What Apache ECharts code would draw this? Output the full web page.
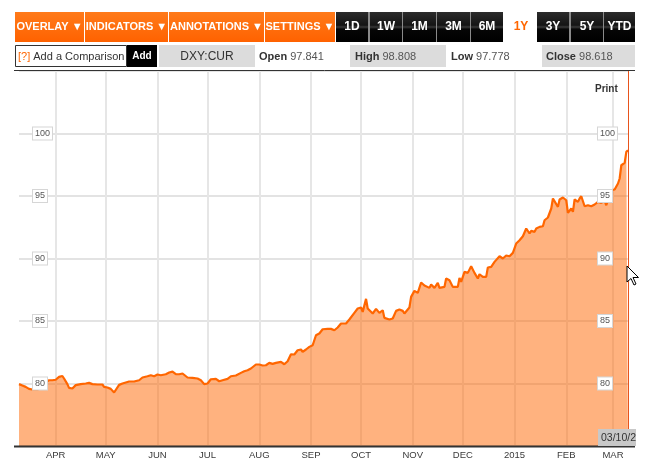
<!DOCTYPE html>
<html><head><meta charset="utf-8">
<script src="https://cdn.jsdelivr.net/npm/echarts@6/dist/echarts.min.js"></script>
<style>html,body{margin:0;padding:0;background:#fff}#c{width:649px;height:467px}</style>
</head><body><div id="c"></div>
<script>
// ---------- data ----------
const dates = [
'2014-03-10','2014-03-11','2014-03-12','2014-03-14','2014-03-16','2014-03-18','2014-03-21','2014-03-24','2014-03-26','2014-03-28','2014-03-30',
'2014-04-01','2014-04-03','2014-04-05','2014-04-06','2014-04-08','2014-04-09','2014-04-11','2014-04-13','2014-04-16','2014-04-19','2014-04-21','2014-04-23','2014-04-26','2014-04-29','2014-04-30',
'2014-05-02','2014-05-04','2014-05-06','2014-05-07','2014-05-09','2014-05-11','2014-05-13','2014-05-15','2014-05-18','2014-05-21','2014-05-23','2014-05-26','2014-05-28','2014-05-30',
'2014-06-01','2014-06-03','2014-06-04','2014-06-06','2014-06-08','2014-06-10','2014-06-12','2014-06-14','2014-06-16','2014-06-17','2014-06-19','2014-06-22','2014-06-25','2014-06-27','2014-06-29',
'2014-07-01','2014-07-03','2014-07-06','2014-07-08','2014-07-10','2014-07-13','2014-07-15','2014-07-18','2014-07-21','2014-07-23','2014-07-25','2014-07-27','2014-07-30',
'2014-08-01','2014-08-03','2014-08-05','2014-08-07','2014-08-09','2014-08-11','2014-08-14','2014-08-16','2014-08-18','2014-08-20','2014-08-22','2014-08-24','2014-08-26','2014-08-27','2014-08-29','2014-08-31',
'2014-09-02','2014-09-03','2014-09-04','2014-09-06','2014-09-08','2014-09-11','2014-09-13','2014-09-15','2014-09-17','2014-09-19','2014-09-22','2014-09-24','2014-09-25','2014-09-27','2014-09-29',
'2014-10-01','2014-10-02','2014-10-04','2014-10-05','2014-10-08','2014-10-10','2014-10-12','2014-10-14','2014-10-15','2014-10-18','2014-10-20','2014-10-22','2014-10-24','2014-10-26','2014-10-27','2014-10-30','2014-10-31',
'2014-11-02','2014-11-04','2014-11-06','2014-11-08','2014-11-09','2014-11-11','2014-11-12','2014-11-14','2014-11-16','2014-11-17','2014-11-20','2014-11-21','2014-11-23','2014-11-25','2014-11-28','2014-11-29','2014-11-30',
'2014-12-02','2014-12-04','2014-12-06','2014-12-08','2014-12-10','2014-12-11','2014-12-13','2014-12-15','2014-12-16','2014-12-18','2014-12-20','2014-12-23','2014-12-25','2014-12-27','2014-12-29','2014-12-31',
'2015-01-01','2015-01-02','2015-01-04','2015-01-06','2015-01-08','2015-01-10','2015-01-11','2015-01-13','2015-01-14','2015-01-16','2015-01-18','2015-01-19','2015-01-21','2015-01-23','2015-01-24','2015-01-25','2015-01-27','2015-01-28','2015-01-30',
'2015-02-01','2015-02-02','2015-02-04','2015-02-05','2015-02-06','2015-02-08','2015-02-09','2015-02-10','2015-02-12','2015-02-14','2015-02-16','2015-02-18','2015-02-20','2015-02-22','2015-02-24','2015-02-25','2015-02-28',
'2015-03-02','2015-03-04','2015-03-05','2015-03-06','2015-03-08','2015-03-09','2015-03-10'
];
const values = [
79.95,79.92,79.84,79.73,79.57,79.52,79.52,79.62,80.10,80.26,80.26,
80.30,80.53,80.60,80.40,79.95,79.65,79.60,79.87,79.95,80.00,80.05,79.95,79.92,79.92,79.73,
79.68,79.57,79.28,79.28,79.89,80.00,80.08,80.16,80.16,80.26,80.48,80.58,80.66,80.58,
80.72,80.66,80.53,80.74,80.88,80.95,80.75,80.74,80.80,80.64,80.48,80.45,80.40,80.26,79.95,
80.00,80.34,80.37,80.18,80.26,80.37,80.58,80.64,80.85,80.98,81.06,81.20,81.52,
81.52,81.44,81.46,81.65,81.57,81.65,81.73,81.54,81.78,82.34,82.32,82.66,82.72,82.53,82.72,82.93,
83.06,82.93,83.86,84.00,84.34,84.37,84.37,84.26,84.48,84.80,84.80,85.12,85.28,85.65,86.00,
86.08,85.73,86.77,86.00,85.60,85.97,85.65,85.86,85.25,85.12,85.20,85.81,85.92,85.81,85.60,86.08,86.93,
87.41,87.25,88.08,87.84,87.94,87.65,87.92,87.65,88.05,87.65,87.73,88.40,88.26,87.73,87.73,88.45,88.13,
88.93,88.85,89.38,88.85,88.40,88.74,88.53,88.53,89.28,89.33,89.73,90.18,90.00,90.24,90.18,90.45,
90.40,91.20,91.46,91.78,92.40,92.00,92.21,92.13,92.40,92.53,92.58,93.06,93.28,94.00,94.80,94.72,94.13,94.72,94.88,
94.66,93.65,94.00,93.73,94.72,94.53,94.80,94.98,94.18,94.26,94.18,94.32,94.53,94.45,94.61,94.26,95.46,
95.52,96.00,96.40,97.46,97.65,98.53,98.66
];
const yTicks = [80, 85, 90, 95, 100];
const xTickDates = ['2014-04-01','2014-05-01','2014-06-01','2014-07-01','2014-08-01','2014-09-01','2014-10-01','2014-11-01','2014-12-01','2015-01-01','2015-02-01','2015-03-01'];
const xTickLabels = ['APR','MAY','JUN','JUL','AUG','SEP','OCT','NOV','DEC','2015','FEB','MAR'];
const rangeStart = '2014-03-10';
const rangeEnd = '2015-03-10';
const cursorDate = '2015-03-10';
const cursorLabel = '03/10/2015';
const symbolName = 'DXY:CUR';
const quoteNames = ['Open', 'High', 'Low', 'Close'];
const quoteValues = ['97.841', '98.808', '97.778', '98.618'];
const menus = ['OVERLAY', 'INDICATORS', 'ANNOTATIONS', 'SETTINGS'];
const ranges = ['1D', '1W', '1M', '3M', '6M', '1Y', '3Y', '5Y', 'YTD'];
const activeRange = '1Y';

// ---------- helpers ----------
function ts(s) { const p = s.split('-').map(Number); return new Date(p[0], p[1] - 1, p[2]).getTime(); }
const F = '"Liberation Sans", Arial, "DejaVu Sans", sans-serif';
const ORANGE = '#ff6600';
const seriesData = dates.map((d, i) => [ts(d), values[i]]);
const tickTs = xTickDates.map(ts);

const chart = echarts.init(document.getElementById('c'), null, { renderer: 'canvas', width: 649, height: 467 });
const G = [];
function rect(x, y, w, h, fill, extra) {
  G.push(Object.assign({ type: 'rect', silent: true, z: 100, shape: { x: x, y: y, width: w, height: h }, style: { fill: fill } }, extra || {}));
}
function text(t, x, y, font, fill, align, extra, z) {
  G.push({ type: 'text', silent: true, z: z || 102, style: Object.assign({
    text: t, x: x, y: y, font: font, fill: fill,
    textAlign: align || 'left', align: align || 'left', textVerticalAlign: 'middle', verticalAlign: 'middle'
  }, extra || {}) });
}
function line(x1, y1, x2, y2, color, w) {
  G.push({ type: 'line', silent: true, z: 101, shape: { x1: x1, y1: y1, x2: x2, y2: y2 }, style: { stroke: color, lineWidth: w } });
}

// ---------- toolbar row 1 ----------
const orangeGrad = new echarts.graphic.LinearGradient(0, 0, 0, 1, [
  { offset: 0, color: '#ff7a1a' }, { offset: 1, color: '#ff6200' }]);
const blackGrad = new echarts.graphic.LinearGradient(0, 0, 0, 1, [
  { offset: 0, color: '#2c2c2c' }, { offset: 0.44, color: '#141414' }, { offset: 0.5, color: '#3a3a3a' },
  { offset: 0.57, color: '#060606' }, { offset: 1, color: '#000000' }]);
const menuBox = [[15, 69], [85, 83], [169, 95], [265, 70]];
menus.forEach((m, i) => {
  const b = menuBox[i];
  rect(b[0], 12, b[1], 30, orangeGrad);
  text(m + ' \u25BC', b[0] + b[1] / 2, 27, 'bold 11px ' + F, '#ffffff', 'center');
});
rect(336, 12, 167, 30, '#8a8a8a');
rect(537, 12, 98, 30, '#8a8a8a');
const rangeBox = [[336, 32], [370, 32], [403, 33], [437, 33], [471, 32], [505, 31], [537, 32], [571, 32], [604, 31]];
ranges.forEach((r, i) => {
  const b = rangeBox[i];
  if (r === activeRange) {
    rect(b[0], 12, b[1], 30, '#ffffff');
    text(r, b[0] + b[1] / 2 + 0.5, 27, 'bold 12px ' + F, ORANGE, 'center');
  } else {
    rect(b[0], 12, b[1], 30, blackGrad);
    text(r, b[0] + b[1] / 2, 27, 'bold 12px ' + F, '#ffffff', 'center');
  }
});

// ---------- toolbar row 2 ----------
G.push({ type: 'rect', silent: true, z: 100, shape: { x: 15.5, y: 45.5, width: 111, height: 21 },
  style: { fill: '#ffffff', stroke: '#333333', lineWidth: 1 } });
text('{q|[?]} Add a Comparison', 18, 56.5, '11px ' + F, '#333333', 'left', {
  rich: { q: { fill: ORANGE, font: '11px ' + F } } });
rect(127, 45, 30, 22, '#000000');
text('Add', 142, 56.5, 'bold 10px ' + F, '#ffffff', 'center');
rect(159, 45, 96, 22, '#dcdcdc');
text(symbolName, 207, 56.5, '12px ' + F, '#333333', 'center');
const quoteX = [259, 355, 451, 546];
const quoteBg = [null, [350, 96], null, [542, 93]];
quoteNames.forEach((n, i) => {
  if (quoteBg[i]) rect(quoteBg[i][0], 45, quoteBg[i][1], 22, '#dcdcdc');
  text('{b|' + n + '} {v|' + quoteValues[i] + '}', quoteX[i], 56.5, '11px ' + F, '#444444', 'left', {
    rich: { b: { font: 'bold 11px ' + F, fill: '#333333' }, v: { font: '11px ' + F, fill: '#555555' } } });
});

// ---------- chart frame & extras ----------
line(14, 70.5, 635, 70.5, '#333333', 1);
line(14, 446.5, 635, 446.5, '#333333', 2);
text('Print', 595, 89.5, 'bold 10px ' + F, '#333333', 'left');
rect(598, 429, 40, 17, '#c8c8c8', { z: 103 });
text(cursorLabel, 601, 438, '10.5px ' + F, '#333333', 'left', {}, 104);
rect(636, 424, 13, 22, '#ffffff', { z: 105 });
G.push({ type: 'polygon', silent: true, z: 106,
  shape: { points: [[627, 266], [627, 282], [631, 278.5], [634, 285], [636, 284], [633, 277.5], [638.5, 277.5]] },
  style: { fill: '#ffffff', stroke: '#000000', lineWidth: 1 } });

const axisLabelBox = {
  inside: true, customValues: yTicks, fontSize: 9, fontFamily: F, color: '#555555',
  backgroundColor: '#ffffff', borderColor: '#d6d6d6', borderWidth: 1, padding: [2, 2, 1, 2]
};

chart.setOption({
  animation: false,
  backgroundColor: '#ffffff',
  grid: { left: 19, right: 21, top: 71, bottom: 21, containLabel: false },
  xAxis: {
    type: 'value', min: ts(rangeStart), max: ts(rangeEnd),
    axisLine: { show: false },
    axisTick: { show: false, customValues: tickTs },
    axisLabel: {
      customValues: tickTs, fontSize: 9.5, fontFamily: F, color: '#3a3a3a', margin: 4,
      formatter: function (v) { const i = tickTs.indexOf(v); return i >= 0 ? xTickLabels[i] : ''; }
    },
    splitLine: { show: true, lineStyle: { color: '#e6e6e6', width: 2 } }
  },
  yAxis: [
    { type: 'value', min: 75, max: 105, interval: 5, position: 'left',
      axisLine: { show: false }, axisTick: { show: false }, axisLabel: { show: false },
      splitLine: { show: true, lineStyle: { color: '#dadada', width: 1.5 } } },
    { type: 'value', min: 75, max: 105, interval: 5, position: 'left', z: 20,
      axisLine: { show: false }, axisTick: { show: false }, splitLine: { show: false },
      axisLabel: Object.assign({}, axisLabelBox, { margin: 14 }) },
    { type: 'value', min: 75, max: 105, interval: 5, position: 'right', z: 20,
      axisLine: { show: false }, axisTick: { show: false }, splitLine: { show: false },
      axisLabel: Object.assign({}, axisLabelBox, { margin: 30, align: 'left' }) }
  ],
  series: [{
    type: 'line', yAxisIndex: 0, data: seriesData, showSymbol: false, symbol: 'none',
    lineStyle: { color: ORANGE, width: 2.2 },
    itemStyle: { color: ORANGE },
    areaStyle: { color: ORANGE, opacity: 0.5 },
    markLine: {
      silent: true, symbol: ['none', 'none'], label: { show: false },
      lineStyle: { color: '#e8541c', width: 1, type: 'solid' },
      data: [{ xAxis: ts(cursorDate) }]
    }
  }],
  graphic: G
});
</script>
</body></html>
